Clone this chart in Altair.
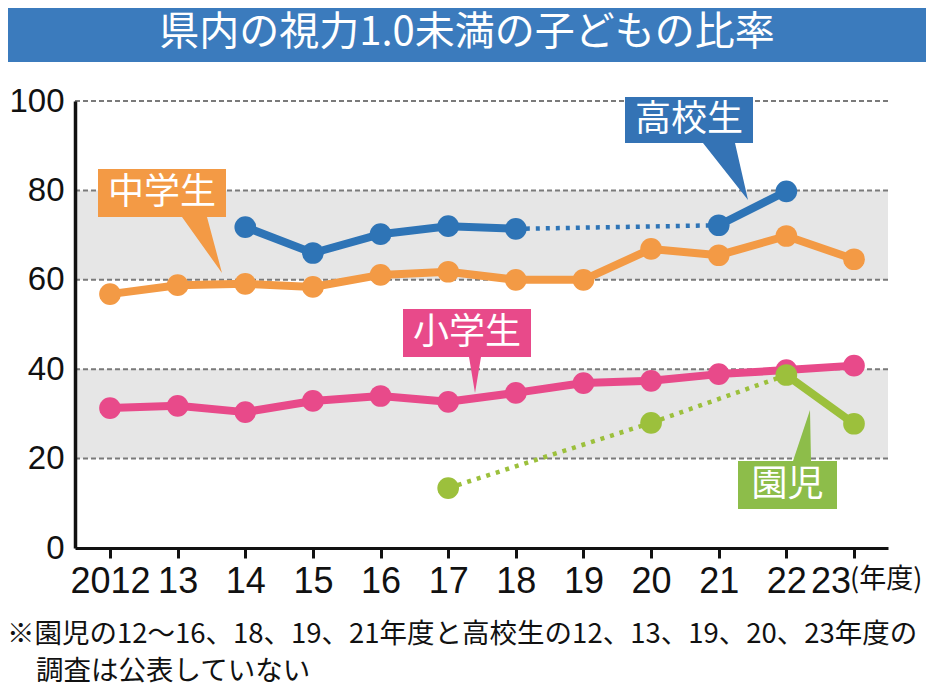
import altair as alt
import pandas as pd

# ---------------- data ----------------
years = list(range(2012, 2024))
elementary = [31.3, 31.8, 30.4, 32.9, 34.0, 32.7, 34.7, 36.9, 37.4, 38.9, 39.8, 40.8]
middle = [56.8, 58.8, 59.1, 58.4, 61.1, 61.8, 60.0, 60.0, 66.9, 65.5, 69.8, 64.6]
high = [None, None, 71.8, 66.0, 70.2, 72.0, 71.4, None, None, 72.2, 79.8, None]
kinder = [None, None, None, None, None, 13.4, None, None, 28.0, None, 38.7, 27.8]

series_names = ["小学生", "中学生", "高校生", "園児"]
series_values = [elementary, middle, high, kinder]
series_colors = ["#e84a8a", "#f39a45", "#2e74b6", "#9cc03c"]
box_colors = ["#e84a8a", "#f39a45", "#3473b5", "#8dbd4a"]

y_ticks = [0, 20, 40, 60, 80, 100]
grid_values = [20, 40, 60, 80, 100]
band_low = [20, 60]
band_high = [40, 80]

title = "県内の視力1.0未満の子どもの比率"
unit_label = "(年度)"
note1 = "※園児の12～16、18、19、21年度と高校生の12、13、19、20、23年度の"
note2 = "調査は公表していない"

# ---------------- tables ----------------
pts_rows = []
seg_rows = []
for name, vals in zip(series_names, series_values):
    present = [(y, v) for y, v in zip(years, vals) if v is not None]
    for y, v in present:
        pts_rows.append({"series": name, "year": y, "value": v})
    for (y1, v1), (y2, v2) in zip(present[:-1], present[1:]):
        seg_rows.append({"series": name, "year": y1, "value": v1,
                         "year2": y2, "value2": v2,
                         "style": "solid" if y2 - y1 == 1 else "dotted"})
pts = pd.DataFrame(pts_rows)
segs = pd.DataFrame(seg_rows)
bands = pd.DataFrame({"lo": band_low, "hi": band_high})
grids = pd.DataFrame({"v": grid_values})

W, H = 813, 447
X0, X1 = 2011.4826, 2023.5027
LABEL_FONT = "Liberation Sans"
JP_FONT = "Noto Sans CJK JP"

xscale = alt.Scale(domain=[X0, X1], nice=False, zero=False)
yscale = alt.Scale(domain=[0, 100], nice=False)
color = alt.Color("series:N", scale=alt.Scale(domain=series_names, range=series_colors), legend=None)

xaxis = alt.Axis(values=years, title=None, grid=False,
                 labelExpr="datum.value == 2012 ? '2012' : (datum.value == 2023 ? '' : substring(toString(datum.value), 2))",
                 labelFont=LABEL_FONT, labelFontSize=36, labelColor="#111",
                 labelPadding=6, labelFlush=False, labelOverlap=False,
                 domainColor="#111", domainWidth=3, tickColor="#111", tickWidth=3, tickSize=10,
                 zindex=1)
yaxis = alt.Axis(values=y_ticks, title=None, grid=False,
                 labelFont=LABEL_FONT, labelFontSize=33, labelColor="#111",
                 labelPadding=11, ticks=False, tickSize=0,
                 domainColor="#111", domainWidth=3.5, zindex=1)

base = alt.Chart(pts)

band_layer = alt.Chart(bands).mark_rect(color="#e6e6e6").encode(
    x=alt.value(0), x2=alt.value(W),
    y=alt.Y("lo:Q", scale=yscale, axis=yaxis), y2="hi:Q")

grid_layer = alt.Chart(grids).mark_rule(color="#7a7a7a", strokeWidth=2, strokeDash=[5, 3]).encode(
    x=alt.value(0), x2=alt.value(W), y=alt.Y("v:Q", scale=yscale))

# callouts (box + pointer drawn as one polygon symbol centred on the plot origin)
R = 100
def poly_path(vertices):
    return "M " + " L ".join(f"{x / R:.3f} {y / R:.3f}" for x, y in vertices) + " Z"

callout_shapes = [
    [(328, 208), (456, 208), (456, 256), (406, 256), (400, 292), (394, 256), (328, 256)],
    [(23, 68), (151, 68), (151, 116), (132, 116), (147, 172), (107, 116), (23, 116)],
    [(550, -4), (678, -4), (678, 42), (660, 42), (673, 99), (628, 42), (550, 42)],
    [(663, 360), (718, 360), (735, 309), (736, 360), (762, 360), (762, 408), (663, 408)],
]
callout_text_pos = [(392, 232), (87, 92), (614, 19), (712.5, 384)]

callout_layers = []
for name, shape, col, (tx, ty) in zip(series_names, callout_shapes, box_colors, callout_text_pos):
    callout_layers.append(
        alt.Chart(pd.DataFrame({"s": [name]})).mark_point(
            shape=poly_path(shape), filled=True, color=col, opacity=1, size=(2 * R) ** 2, strokeWidth=0
        ).encode(x=alt.value(0), y=alt.value(0)))
    callout_layers.append(
        alt.Chart(pd.DataFrame({"s": [name]})).mark_text(
            font=JP_FONT, fontSize=36, color="white", align="center", baseline="middle"
        ).encode(x=alt.value(tx), y=alt.value(ty), text="s:N"))

solid_layer = alt.Chart(segs).transform_filter(alt.datum.style == "solid").mark_rule(
    strokeWidth=8, strokeCap="round").encode(
    x=alt.X("year:Q", scale=xscale, axis=xaxis), x2="year2:Q",
    y=alt.Y("value:Q", scale=yscale), y2="value2:Q", color=color)

dotted_layer = alt.Chart(segs).transform_filter(alt.datum.style == "dotted").mark_rule(
    strokeWidth=4.5, strokeDash=[4, 6]).encode(
    x=alt.X("year:Q", scale=xscale), x2="year2:Q",
    y=alt.Y("value:Q", scale=yscale), y2="value2:Q", color=color)

point_layer = base.mark_circle(size=470, opacity=1).encode(
    x=alt.X("year:Q", scale=xscale), y=alt.Y("value:Q", scale=yscale), color=color)

# banner title
banner = alt.Chart(pd.DataFrame({"t": [title]})).mark_rect(color="#3b7bbd").encode(
    x=alt.value(-80), x2=alt.value(870), y=alt.value(-101), y2=alt.value(-39))
banner_text = alt.Chart(pd.DataFrame({"t": [title]})).mark_text(
    font=JP_FONT, fontSize=40, fontWeight="normal", color="white", align="center", baseline="middle"
).encode(x=alt.value(392), y=alt.value(-68), text="t:N")

last_label = alt.Chart(pd.DataFrame({"t": [str(years[-1])[2:]]})).mark_text(
    font=LABEL_FONT, fontSize=36, color="#111", align="center", baseline="alphabetic"
).encode(x=alt.value(756), y=alt.value(492), text="t:N")
unit_text = alt.Chart(pd.DataFrame({"t": [unit_label]})).mark_text(
    font=JP_FONT, fontSize=27, color="#111", align="left", baseline="middle"
).encode(x=alt.value(775), y=alt.value(479), text="t:N")

note_text1 = alt.Chart(pd.DataFrame({"t": [note1]})).mark_text(
    font=JP_FONT, fontSize=27.5, color="#111", align="left", baseline="middle"
).encode(x=alt.value(-68), y=alt.value(534), text="t:N")
note_text2 = alt.Chart(pd.DataFrame({"t": [note2]})).mark_text(
    font=JP_FONT, fontSize=27.5, color="#111", align="left", baseline="middle"
).encode(x=alt.value(-39), y=alt.value(571), text="t:N")

chart = alt.layer(
    band_layer, grid_layer, *callout_layers, solid_layer, dotted_layer, point_layer,
    banner, banner_text, last_label, unit_text, note_text1, note_text2
).properties(
    width=W, height=H,
    padding={"left": 67, "top": 93, "right": 38, "bottom": 139},
    autosize=alt.AutoSizeParams(type="none"),
    background="white",
).configure_view(stroke=None)

chart.save("out.html", embed_options={"renderer": "svg", "actions": False})
